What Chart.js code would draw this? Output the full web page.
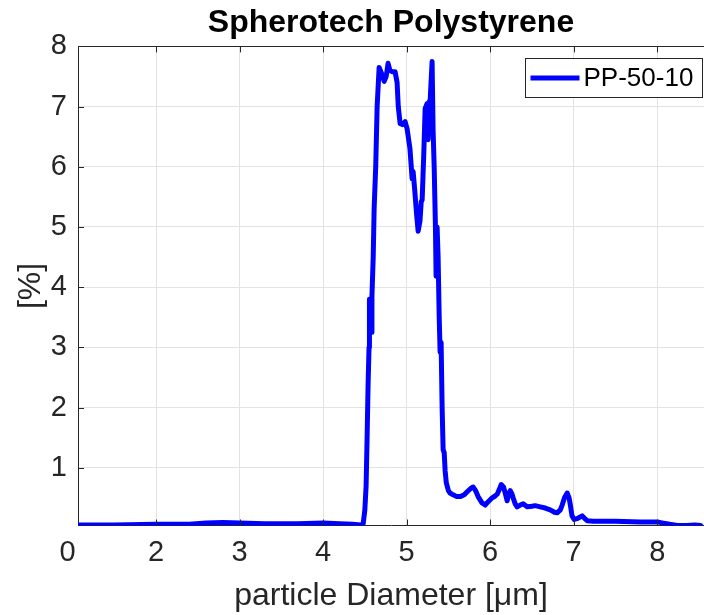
<!DOCTYPE html>
<html>
<head>
<meta charset="utf-8">
<script src="https://cdn.jsdelivr.net/npm/chart.js@4/dist/chart.umd.min.js"></script>
<style>
html, body { margin: 0; padding: 0; background: #fff; }
canvas { display: block; }
</style>
</head>
<body>
<canvas id="chart" width="704" height="615"></canvas>
<script>
'use strict';

// data
var seriesName = 'PP-50-10';
var diameters = [
  1.07, 1.5, 2.0, 2.4, 2.6, 2.8, 3.0, 3.3, 3.7, 4.0,
  4.2, 4.35, 4.45, 4.48, 4.50, 4.515, 4.527, 4.539, 4.55, 4.555,
  4.565, 4.575, 4.585, 4.60, 4.611, 4.63, 4.647, 4.671, 4.70, 4.731,
  4.755, 4.778, 4.80, 4.826, 4.862, 4.886, 4.90, 4.922, 4.95, 4.982,
  5.006, 5.04, 5.066, 5.078, 5.096, 5.12, 5.138, 5.16, 5.175, 5.186,
  5.205, 5.222, 5.246, 5.257, 5.27, 5.281, 5.305, 5.317, 5.33, 5.345,
  5.353, 5.365, 5.377, 5.39, 5.401, 5.413, 5.425, 5.437, 5.45, 5.461,
  5.475, 5.50, 5.52, 5.557, 5.60, 5.641, 5.69, 5.725, 5.77, 5.796,
  5.825, 5.856, 5.90, 5.94, 5.98, 6.024, 6.06, 6.084, 6.11, 6.132,
  6.16, 6.18, 6.204, 6.22, 6.24, 6.26, 6.275, 6.30, 6.323, 6.36,
  6.395, 6.443, 6.50, 6.539, 6.60, 6.659, 6.719, 6.77, 6.802, 6.84,
  6.862, 6.89, 6.922, 6.945, 6.96, 6.98, 7.006, 7.05, 7.102, 7.13,
  7.162, 7.234, 7.317, 7.5, 7.796, 8.0, 8.072, 8.15, 8.24, 8.35,
  8.45, 8.52
];
var percents = [
  0.05, 0.05, 0.06, 0.06, 0.08, 0.09, 0.08, 0.07, 0.07, 0.08,
  0.07, 0.06, 0.05, 0.07, 0.3, 0.7, 1.5, 2.4, 3.0, 3.8,
  3.3, 3.25, 3.85, 4.5, 5.3, 6.0, 7.0, 7.65, 7.55, 7.42,
  7.5, 7.72, 7.6, 7.58, 7.58, 7.4, 7.0, 6.72, 6.7, 6.75,
  6.63, 6.3, 5.8, 5.92, 5.63, 5.2, 4.93, 5.1, 5.42, 5.45,
  6.2, 6.97, 7.05, 6.45, 7.08, 7.08, 7.75, 6.6, 6.0, 5.0,
  4.18, 5.0, 4.5, 3.5, 2.92, 3.08, 2.0, 1.3, 1.25, 0.95,
  0.75, 0.62, 0.58, 0.55, 0.52, 0.52, 0.55, 0.6, 0.66, 0.68,
  0.62, 0.52, 0.42, 0.38, 0.44, 0.5, 0.53, 0.56, 0.64, 0.72,
  0.68, 0.58, 0.45, 0.55, 0.62, 0.57, 0.5, 0.4, 0.35, 0.38,
  0.4, 0.35, 0.36, 0.37, 0.35, 0.33, 0.3, 0.26, 0.25, 0.3,
  0.38, 0.5, 0.58, 0.5, 0.38, 0.2, 0.14, 0.16, 0.2, 0.16,
  0.12, 0.11, 0.11, 0.11, 0.1, 0.1, 0.08, 0.06, 0.04, 0.04,
  0.05, 0.04
];

// axis ticks
var xTickValues = [0.94, 2, 3, 4, 5, 6, 7, 8];
var xTickLabels = ['0', '2', '3', '4', '5', '6', '7', '8'];
var yTickValues = [1, 2, 3, 4, 5, 6, 7, 8];
var xRange = [1.066, 8.56];
var yRange = [0.04, 8];

// styles
var fontFamily = '"Liberation Sans", Arial, Helvetica, sans-serif';
var axisColor = '#262626';
var gridColor = '#e3e3e3';
var lineColor = '#0000ff';

var points = diameters.map(function(d, i) { return {x: d, y: percents[i]}; });

// matlab-ish box, inner ticks and legend
var matlabAxes = {
  id: 'matlabAxes',
  afterDraw: function(chart) {
    var ctx = chart.ctx;
    var area = chart.chartArea;
    var xScale = chart.scales.x;
    var yScale = chart.scales.y;
    var tickLen = 6;
    ctx.save();
    ctx.strokeStyle = axisColor;
    ctx.lineWidth = 1;
    ctx.beginPath();
    ctx.moveTo(area.left, Math.round(area.top) + 0.5);
    ctx.lineTo(area.right, Math.round(area.top) + 0.5);
    xScale.ticks.forEach(function(t) {
      if (t.value <= xScale.min || t.value >= xScale.max) return;
      var px = Math.round(xScale.getPixelForValue(t.value)) + 0.5;
      ctx.moveTo(px, area.bottom);
      ctx.lineTo(px, area.bottom - tickLen);
      ctx.moveTo(px, area.top);
      ctx.lineTo(px, area.top + tickLen);
    });
    yScale.ticks.forEach(function(t) {
      if (t.value <= yScale.min || t.value >= yScale.max) return;
      var py = Math.round(yScale.getPixelForValue(t.value)) + 0.5;
      ctx.moveTo(area.left, py);
      ctx.lineTo(area.left + tickLen, py);
    });
    ctx.stroke();

    // legend
    var ds = chart.data.datasets[0];
    var boxW = 177, boxH = 39;
    var bx = Math.round(area.right - boxW - 2) + 0.5;
    var by = Math.round(area.top + 12) + 0.5;
    ctx.fillStyle = '#ffffff';
    ctx.fillRect(bx, by, boxW, boxH);
    ctx.strokeStyle = axisColor;
    ctx.strokeRect(bx, by, boxW, boxH);
    ctx.strokeStyle = ds.borderColor;
    ctx.lineWidth = ds.borderWidth;
    ctx.beginPath();
    ctx.moveTo(bx + 5, by + boxH / 2);
    ctx.lineTo(bx + 54, by + boxH / 2);
    ctx.stroke();
    ctx.fillStyle = '#000000';
    ctx.font = '26px ' + fontFamily;
    ctx.textBaseline = 'middle';
    ctx.textAlign = 'left';
    ctx.fillText(ds.label, bx + 58, by + boxH / 2 + 1);
    ctx.restore();
  }
};

var ctx = document.getElementById('chart').getContext('2d');
new Chart(ctx, {
  type: 'line',
  data: {
    datasets: [{
      label: seriesName,
      data: points,
      borderColor: lineColor,
      backgroundColor: lineColor,
      borderWidth: 5,
      pointRadius: 0,
      tension: 0,
      borderJoinStyle: 'round',
      borderCapStyle: 'round',
      fill: false
    }]
  },
  options: {
    responsive: false,
    devicePixelRatio: 1,
    animation: false,
    layout: {padding: {left: 0, right: 0, top: 0, bottom: 0}},
    plugins: {
      legend: {display: false},
      tooltip: {enabled: false},
      title: {
        display: true,
        fullSize: false,
        text: 'Spherotech Polystyrene',
        color: '#000000',
        font: {family: fontFamily, size: 32, weight: 'bold', lineHeight: 1.2},
        padding: {top: 4, bottom: 4}
      }
    },
    scales: {
      x: {
        type: 'linear',
        min: xRange[0],
        max: xRange[1],
        afterBuildTicks: function(scale) {
          scale.ticks = xTickValues.map(function(v) { return {value: v}; });
        },
        afterFit: function(scale) { scale.height = 89.5; },
        ticks: {
          autoSkip: false,
          maxRotation: 0,
          padding: 10,
          color: axisColor,
          font: {family: fontFamily, size: 29},
          callback: function(value, index) { return xTickLabels[index]; }
        },
        grid: {
          drawTicks: false,
          color: function(c) {
            return c.tick && c.tick.value < xRange[0] ? 'rgba(0,0,0,0)' : gridColor;
          }
        },
        border: {display: true, color: axisColor, width: 1},
        title: {
          display: true,
          text: 'particle Diameter [μm]',
          color: axisColor,
          font: {family: fontFamily, size: 32, lineHeight: 1.2},
          padding: {top: 0, bottom: 0}
        }
      },
      y: {
        type: 'linear',
        min: yRange[0],
        max: yRange[1],
        afterBuildTicks: function(scale) {
          scale.ticks = yTickValues.map(function(v) { return {value: v}; });
        },
        afterFit: function(scale) { scale.width = 78; },
        ticks: {
          padding: 11,
          color: axisColor,
          font: {family: fontFamily, size: 29}
        },
        grid: {drawTicks: false, color: gridColor},
        border: {display: true, color: axisColor, width: 1},
        title: {
          display: true,
          text: '[%]',
          color: axisColor,
          font: {family: fontFamily, size: 32, lineHeight: 1.2},
          padding: {top: 12, bottom: 0}
        }
      }
    }
  },
  plugins: [matlabAxes]
});
</script>
</body>
</html>
